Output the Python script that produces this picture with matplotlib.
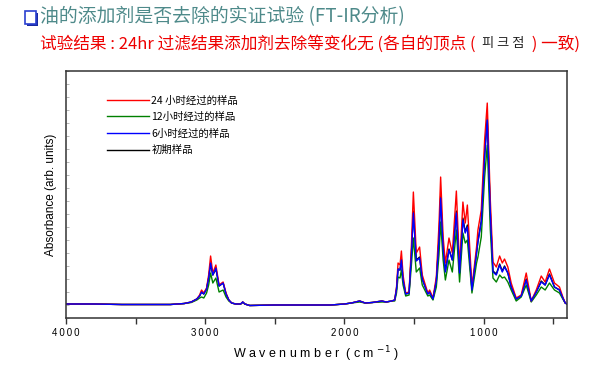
import matplotlib
matplotlib.use('Agg')
import matplotlib.pyplot as plt
from matplotlib.patches import Rectangle
from matplotlib.ticker import MultipleLocator, NullFormatter

plt.rcParams['font.family'] = ['Noto Sans CJK SC', 'DejaVu Sans']

# wavenumber (cm-1) and absorbance (arb. units)
wavenumber = [4000, 3800, 3600, 3400, 3250, 3150, 3100, 3060, 3040, 3026, 3010, 2990, 2975, 2961,
              2945, 2923, 2900, 2871, 2850, 2830, 2810, 2780, 2745, 2730, 2715, 2680, 2500, 2300,
              2100, 2000, 1950, 1890, 1850, 1800, 1730, 1700, 1660, 1638, 1625, 1614, 1600, 1590,
              1578, 1559, 1535, 1518, 1504, 1483, 1459, 1440, 1411, 1400, 1387, 1363, 1339, 1320,
              1308, 1290, 1274, 1248, 1224, 1195, 1172, 1148, 1131, 1116, 1083, 1050, 1040, 1016,
              992, 973, 951, 932, 908, 884, 865, 849, 825, 801, 765, 729, 693, 657, 621, 585,
              557, 526, 490, 454, 430, 413, 400]

abs_24h = [1, 1, 0.5, 0.5, 0.5, 1.5, 3, 6, 10, 15, 12, 17, 30, 49,
           32, 40, 20, 23, 12, 5, 2, 1, 1, 3, 1, -0.5, 0, 0,
           0, 1, 2, 4, 2, 2.5, 4, 3, 4, 5, 18, 42, 40, 54,
           30, 12, 13, 60, 113, 52, 58, 30, 17, 12, 15, 7, 28, 80,
           128, 68, 42, 67, 52, 114, 38, 103, 82, 100, 18, 58, 75, 95,
           165, 202, 105, 43, 38, 49, 42, 46, 38, 22, 7, 10, 32, 4, 15, 29,
           23, 36, 22, 18, 8, 2, 1]

abs_12h = [1, 1, 0.5, 0.5, 0.5, 1.5, 2.5, 5, 7, 8, 7, 12, 20, 32,
           22, 27, 13, 15, 8, 4, 2, 1, 1, 2.5, 1, -0.5, 0, 0,
           0, 1, 2, 3, 2, 2.5, 3, 3, 4, 4, 12, 28, 27, 35,
           20, 9, 10, 40, 67, 33, 37, 20, 12, 9, 10, 5, 18, 50,
           83, 45, 25, 45, 33, 75, 23, 72, 62, 65, 12, 42, 48, 68,
           128, 160, 75, 27, 23, 30, 27, 28, 23, 15, 4, 8, 20, 3, 10, 18,
           15, 22, 15, 12, 6, 2, 1]

abs_6h = [1, 1, 0.5, 0.5, 0.5, 1.5, 3, 6, 9, 13, 11, 16, 27, 42,
          30, 37, 19, 22, 11, 5, 2, 1, 1, 3, 1, -0.5, 0, 0,
          0, 1, 2, 4, 2, 2.5, 4, 3, 4, 5, 16, 36, 35, 45,
          25, 11, 12, 50, 92, 44, 47, 26, 15, 11, 13, 6, 24, 65,
          107, 56, 33, 55, 45, 92, 32, 85, 72, 78, 15, 52, 63, 83,
          148, 185, 92, 33, 30, 40, 33, 38, 32, 18, 6, 9, 25, 4, 13, 23,
          20, 30, 18, 15, 7, 2, 1]

abs_init = [1, 1, 0.5, 0.5, 0.5, 1.5, 3, 6, 9, 13, 11, 16, 27, 41,
            30, 36, 19, 22, 11, 5, 2, 1, 1, 3, 1, -0.5, 0, 0,
            0, 1, 2, 4, 2, 2.5, 4, 3, 4, 5, 16, 36, 35, 46,
            25, 11, 12, 51, 94, 45, 48, 26, 15, 11, 13, 6, 24, 66,
            109, 57, 34, 56, 45, 94, 32, 87, 73, 80, 15, 52, 64, 84,
            150, 188, 93, 34, 31, 41, 34, 39, 32, 18, 6, 9, 26, 4, 13, 24,
            20, 31, 18, 15, 7, 2, 1]

labels = ['24 小时经过的样品', '12小时经过的样品', '6小时经过的样品', '初期样品']

fig = plt.figure(figsize=(6, 3.77), dpi=100)
ax = fig.add_axes([0.11, 0.1565, 0.835, 0.655])

l_init, = ax.plot(wavenumber, abs_init, color='black', lw=1.0)
l_12, = ax.plot(wavenumber, abs_12h, color='#008000', lw=1.0)
l_24, = ax.plot(wavenumber, abs_24h, color='#ff0000', lw=1.0)
l_6, = ax.plot(wavenumber, abs_6h, color='#0000ff', lw=1.0)

ax.set_xlim(4000, 400)
ax.set_ylim(-13, 234)

ax.xaxis.set_minor_locator(MultipleLocator(500))
ax.set_xticks([4000, 3000, 2000, 1000])
ax.set_xticklabels(['4\u20090\u20090\u20090', '3\u20090\u20090\u20090',
                    '2\u20090\u20090\u20090', '1\u20090\u20090\u20090'],
                   fontsize=7, family='Liberation Sans')
ax.tick_params(axis='x', which='both', direction='out', length=4, width=1, color='#333333')
ax.yaxis.set_major_locator(MultipleLocator(13))
ax.yaxis.set_major_formatter(NullFormatter())
ax.tick_params(axis='y', which='both', direction='in', length=2, width=0.5, color='#999999')
ax.tick_params(axis='y', which='minor', length=0)

for s in ax.spines.values():
    s.set_color('#333333')
    s.set_linewidth(1.1)

ax.set_xlabel('W a v e n u m b e r  ( c m $^{-1}$ )', fontsize=9, family='Liberation Sans',
              labelpad=4)
ax.set_ylabel('Absorbance (arb. units)', fontsize=8.5, family='Liberation Sans', labelpad=3)

ax.legend([l_24, l_12, l_6, l_init], labels, loc='upper left', bbox_to_anchor=(0.065, 0.935),
          frameon=False, fontsize=7.5, handlelength=4.0, handletextpad=0.25, labelspacing=0.62,
          borderpad=0.3)

# header
fig.add_artist(Rectangle((27 / 600, 1 - 26 / 377), 11 / 600, 13 / 377,
                         transform=fig.transFigure, facecolor='#1a2aa0', edgecolor='none'))
fig.add_artist(Rectangle((25 / 600, 1 - 24 / 377), 11 / 600, 13 / 377,
                         transform=fig.transFigure, facecolor='white', edgecolor='#2a3fd0', lw=1.2))
fig.text(40 / 600, 1 - 17 / 377, '油的添加剂是否去除的实证试验 (FT-IR分析)', fontsize=13.6,
         color='#4e8a8a', va='center', ha='left')

t1 = fig.text(40 / 600, 1 - 44 / 377, '试验结果 : 24hr 过滤结果添加剂去除等变化无 (各自的顶点 ( ',
              fontsize=12, color='#ee0000', va='center', ha='left')
t2 = ax.annotate(' 피 크 점 ', xy=(1, 0.5), xycoords=t1, va='center', ha='left',
                 fontsize=9.5, color='#222222', annotation_clip=False)
ax.annotate(' ) 一致)', xy=(1, 0.5), xycoords=t2, va='center', ha='left',
            fontsize=12, color='#ee0000', annotation_clip=False)

fig.savefig('out.png', dpi=100)
